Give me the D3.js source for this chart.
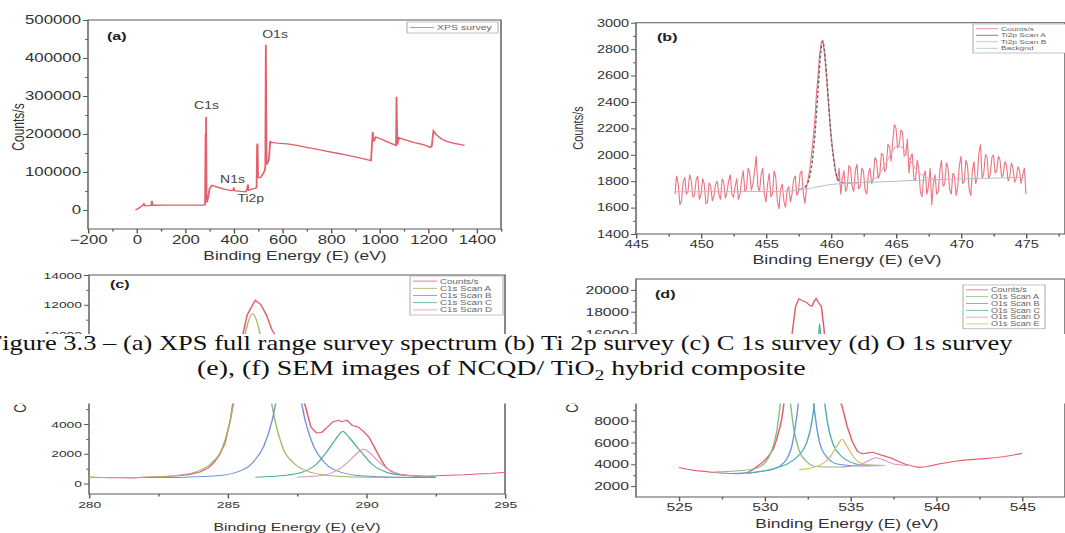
<!DOCTYPE html>
<html>
<head>
<meta charset="utf-8">
<script src="https://cdn.jsdelivr.net/npm/d3@7"></script>
<style>
  html, body { margin: 0; padding: 0; background: #fff; }
  svg { display: block; }
</style>
</head>
<body>
<svg id="fig" width="1065" height="533"></svg>
<script>
/* XPS figure: (a) survey, (b) Ti 2p, (c) C 1s, (d) O 1s, with the
 * thesis caption pasted over the middle of the page. */

// ---- (a) survey: [binding energy eV, counts/s]
const surveyData = [
  [-5, 0], [5, 3000], [15, 8000], [25, 12000], [30, 16000], [35, 11000], [45, 11500],
  [60, 12000], [63, 24000], [66, 12500], [80, 12500], [120, 13000], [160, 13000],
  [200, 13000], [240, 13000], [275, 13000], [282, 14000], [284, 200000], [285, 120000],
  [286, 245000], [288, 30000], [290, 20000], [295, 35000], [300, 55000], [310, 65000],
  [330, 61000], [360, 55000], [390, 51000], [398, 52000], [400, 60000], [402, 51000],
  [430, 49000], [450, 48000], [455, 55000], [458, 67000], [461, 52000], [480, 56000],
  [490, 57000], [494, 60000], [496, 170000], [498, 175000], [500, 85000], [510, 85000],
  [520, 95000], [527, 103000], [530, 115000], [532, 435000], [535, 120000], [540, 125000],
  [545, 135000], [550, 180000], [555, 178000], [580, 176000], [620, 174000], [660, 170000],
  [700, 165000], [740, 160000], [780, 155000], [820, 150000], [860, 145000], [900, 140000],
  [940, 134000], [965, 130000], [972, 205000], [976, 180000], [985, 192000], [1000, 188000],
  [1030, 180000], [1060, 172000], [1068, 170000], [1070, 298000], [1073, 172000],
  [1080, 190000], [1100, 186000], [1140, 178000], [1180, 172000], [1210, 165000],
  [1215, 168000], [1222, 208000], [1235, 197000], [1255, 187000], [1280, 180000],
  [1310, 175000], [1330, 173000], [1350, 170000]
];
const surveyPeaks = [
  { label: 'C1s', e: 288, c: 265000 },
  { label: 'N1s', e: 395, c: 72000 },
  { label: 'Ti2p', e: 470, c: 21000 },
  { label: 'O1s', e: 570, c: 452000 }
];

// ---- (b) Ti 2p: counts on a 0.125 eV grid from 448 eV
const ti2pStart = 448, ti2pStep = 0.125;
const ti2pCounts = [
  1700, 1840, 1780, 1620, 1650, 1790, 1830, 1700, 1720, 1850, 1800, 1680, 1690, 1810, 1840, 1660,
  1700, 1820, 1780, 1630, 1640, 1790, 1760, 1650, 1690, 1780, 1800, 1700, 1660, 1820, 1790, 1670,
  1720, 1800, 1850, 1700, 1680, 1760, 1820, 1660, 1700, 1810, 1880, 1720, 1740, 1900, 1860, 1730,
  1780, 1880, 1990, 1760, 1720, 1850, 1900, 1700, 1640, 1780, 1860, 1680, 1700, 1880, 1830, 1650,
  1590, 1740, 1780, 1650, 1600, 1730, 1760, 1640, 1700, 1810, 1840, 1690, 1720, 1860, 1880, 1700,
  1630, 1760, 1820, 1900, 2000, 2120, 2250, 2450, 2600, 2760, 2850, 2870, 2760, 2620, 2450, 2300,
  2150, 2040, 1950, 1860, 1800, 1900, 1700, 1820, 1880, 1720, 1750, 1920, 1900, 1760, 1720, 1880,
  1930, 1740, 1760, 1900, 1870, 1730, 1700, 1860, 1900, 1780, 1820, 1980, 1960, 1820, 1850, 2010,
  2000, 1870, 1900, 2080, 2060, 1950, 2100, 2230, 2200, 2050, 2080, 2190, 2170, 1990, 2000, 2120,
  1860, 1980, 2010, 1820, 1800, 1960, 1900, 1720, 1680, 1830, 1880, 1700, 1760, 1900, 1620, 1780,
  1850, 1700, 1720, 1880, 1960, 1760, 1780, 1940, 1900, 1740, 1700, 1860, 1840, 1690, 1760, 1920,
  1990, 1780, 1800, 1960, 1920, 1740, 1690, 1880, 1950, 1780, 1830, 2010, 2080, 1820, 1860, 2000,
  1990, 1820, 1850, 1980, 2000, 1860, 1880, 1990, 1960, 1830, 1850, 1950, 1920, 1800, 1830, 1940,
  1900, 1790, 1820, 1910, 1880, 1780, 1850, 1900, 1700
];
const ti2pScanA = [[457.5, 1735], [458, 1755], [458.4, 1850], [458.7, 2080], [459, 2480], [459.2, 2760],
  [459.35, 2860], [459.5, 2790], [459.7, 2560], [460, 2150], [460.3, 1900], [460.6, 1805], [461, 1786], [462, 1788]];
const ti2pScanB = [[462.5, 1790], [463.3, 1815], [463.9, 1880], [464.4, 1970], [464.8, 2040], [465.2, 2070],
  [465.6, 2040], [466.1, 1960], [466.6, 1880], [467.3, 1830], [468.2, 1812]];
const ti2pBackground = [[448, 1720], [456, 1722], [457, 1728], [458, 1740], [459, 1757], [460, 1774],
  [461, 1783], [462, 1787], [463, 1791], [464, 1795], [465, 1800], [466, 1805], [468, 1811], [470, 1817],
  [472, 1823], [475, 1830]];

// ---- (c) C 1s
const c1sCounts = [
  [280, 440], [280.4, 410], [280.8, 390], [281.2, 400], [281.6, 380], [282, 420], [282.4, 440], [282.8, 470],
  [283.2, 520], [283.6, 600], [284, 780], [284.3, 1050], [284.5, 1400], [284.7, 1900], [284.9, 2700],
  [285.1, 4300], [285.3, 6800], [285.5, 9600], [285.7, 11300], [285.9, 12000], [286.0, 12300], [286.2, 12000],
  [286.4, 11300], [286.6, 10300], [286.8, 9700], [287.0, 9300], [287.2, 8700], [287.4, 7600], [287.6, 6300],
  [287.8, 5200], [288.0, 3800], [288.2, 3400], [288.4, 3450], [288.6, 3800], [288.8, 4150], [289.0, 4250],
  [289.1, 4150], [289.3, 4250], [289.5, 3900], [289.7, 3800], [289.9, 3500], [290.1, 3100], [290.3, 2400],
  [290.5, 1700], [290.7, 1100], [290.9, 800], [291.2, 620], [291.6, 540], [292, 500], [292.5, 520],
  [293, 560], [293.5, 590], [294, 640], [294.5, 680], [295, 760]
];
const c1sScanA = [[280, 400], [281.5, 410], [282.5, 460], [283.3, 580], [283.9, 820], [284.4, 1350], [284.8, 2350],
  [285.1, 4300], [285.4, 7400], [285.65, 10200], [285.9, 11400], [286.15, 10200], [286.4, 7400], [286.7, 4300],
  [287, 2350], [287.4, 1350], [287.9, 820], [288.5, 580], [289.3, 460], [290.5, 420], [292, 410]];
const c1sScanB = [[282, 400], [283.5, 430], [284.5, 500], [285.3, 750], [285.9, 1400], [286.3, 2500], [286.6, 4200],
  [286.85, 6500], [287.05, 8000], [287.2, 8600], [287.35, 8000], [287.55, 6500], [287.8, 4200], [288.1, 2500],
  [288.5, 1400], [289.1, 750], [289.9, 500], [291, 430], [292.5, 410]];
const c1sScanC = [[286, 430], [287, 540], [287.7, 780], [288.2, 1300], [288.6, 2200], [288.9, 3000], [289.15, 3500],
  [289.4, 3050], [289.8, 2150], [290.2, 1300], [290.7, 780], [291.3, 560], [292.5, 450]];
const c1sScanD = [[287.5, 430], [288.5, 580], [289, 950], [289.4, 1550], [289.7, 2100], [289.9, 2300], [290.1, 2100],
  [290.4, 1550], [290.8, 950], [291.3, 600], [292.3, 460]];

// ---- (d) O 1s
const o1sCounts = [
  [525, 3700], [525.5, 3550], [526, 3420], [526.5, 3350], [527, 3250], [527.5, 3200], [528, 3150], [528.5, 3130],
  [529, 3250], [529.3, 3500], [529.6, 3850], [529.9, 4200], [530.2, 4700], [530.5, 5400], [530.7, 6300],
  [530.9, 7500], [531.0, 8200], [531.2, 10500], [531.4, 13500], [531.6, 16000], [531.8, 18500], [532.0, 19200],
  [532.2, 19000], [532.4, 18900], [532.6, 18600], [532.75, 18500], [532.9, 19000], [533.0, 19200], [533.15, 18800],
  [533.3, 18500], [533.45, 16500], [533.6, 14000], [533.8, 12000], [534.0, 11000], [534.3, 10000], [534.5, 9400],
  [534.8, 7500], [535.1, 6100], [535.4, 5200], [535.7, 4950], [536.0, 5050], [536.3, 5100], [536.6, 4950],
  [537, 4750], [537.4, 4550], [537.8, 4250], [538.2, 4000], [538.6, 3850], [539, 3720], [539.4, 3780],
  [539.8, 3900], [540.2, 4050], [540.6, 4150], [541, 4250], [541.6, 4380], [542.2, 4450], [542.8, 4520],
  [543.4, 4600], [544, 4720], [544.5, 4850], [545, 5000]
];
const o1sScanA = [[527, 3300], [528.5, 3400], [529.5, 3650], [530, 4100], [530.4, 5200], [530.7, 7000], [530.95, 10000],
  [531.2, 12800], [531.45, 10200], [531.7, 7200], [532, 5300], [532.4, 4300], [533, 3800], [534, 3750], [535, 3800]];
const o1sScanB = [[528, 3150], [529.5, 3300], [530.5, 3550], [531.2, 4300], [531.6, 5800], [531.9, 8800], [532.15, 12500],
  [532.4, 15500], [532.65, 12500], [532.9, 8900], [533.2, 6000], [533.6, 4700], [534.3, 4000], [535.5, 3850], [537, 3880]];
const o1sScanC = [[529, 3150], [530.5, 3600], [531.4, 4100], [531.9, 4700], [532.4, 5800], [532.7, 7500], [532.95, 10500],
  [533.1, 14500], [533.2, 16900], [533.3, 14500], [533.45, 10500], [533.7, 7500], [534, 5800], [534.5, 4700],
  [535, 4200], [535.6, 3950], [537, 3880]];
const o1sScanD = [[534.5, 3750], [535.5, 3950], [536, 4300], [536.5, 4600], [537, 4350], [537.6, 4000], [538.5, 3900]];
const o1sScanE = [[532, 3500], [533, 3800], [533.6, 4300], [534, 5100], [534.3, 5900], [534.5, 6300], [534.7, 5900],
  [535, 5100], [535.4, 4300], [536, 3950], [537, 3880]];

// ---- caption
const captionLines = [
  'Figure 3.3 \u2013 (a) XPS full range survey spectrum (b) Ti 2p survey (c) C 1s survey (d) O 1s survey',
  ['(e), (f) SEM images of NCQD/ TiO', '2', ' hybrid composite']
];

const SX = 1.4;   // the scanned figure is stretched sideways; panels are drawn squeezed then scaled
const FONT = '"Liberation Sans", Arial, sans-serif';
const RED = '#e4606c';

const svg = d3.select('#fig');

function drawPanel(p) {
  const g = svg.append('g').attr('transform', `scale(${SX},1)`).attr('font-family', FONT);
  const x = d3.scaleLinear().domain(p.xDomain).range([p.left / SX, p.right / SX]);
  const y = d3.scaleLinear().domain(p.yDomain).range([p.bottom, p.top]);

  const clipId = 'clip-' + p.id;
  g.append('clipPath').attr('id', clipId).append('rect')
    .attr('x', p.left / SX).attr('y', p.top)
    .attr('width', (p.right - p.left) / SX).attr('height', p.bottom - p.top);

  // minor marks first, then the labelled major ticks
  const axes = [
    [d3.axisBottom(x).tickValues(p.xMinor).tickSize(2.5).tickFormat(''), `translate(0,${p.bottom})`],
    [d3.axisBottom(x).tickValues(p.xTicks).tickSize(4.5).tickPadding(2).tickFormat(d3.format('d')), `translate(0,${p.bottom})`],
    [d3.axisLeft(y).tickValues(p.yMinor).tickSize(2).tickFormat(''), `translate(${p.left / SX},0)`],
    [d3.axisLeft(y).tickValues(p.yTicks).tickSize(3.5).tickPadding(1.5).tickFormat(d3.format('d')), `translate(${p.left / SX},0)`]
  ];
  axes.forEach(([ax, tr]) => {
    const a = g.append('g').attr('transform', tr).call(ax);
    a.attr('font-size', p.tickFont).attr('font-family', FONT);
    a.select('.domain').remove();
    a.selectAll('line').attr('stroke', '#555');
    a.selectAll('text').attr('fill', '#333');
  });

  g.append('rect')
    .attr('x', p.left / SX).attr('y', p.top)
    .attr('width', (p.right - p.left) / SX).attr('height', p.bottom - p.top)
    .attr('fill', 'none').attr('stroke', '#666').attr('stroke-width', 1.1);

  p.series.forEach(s => {
    const line = d3.line()
      .x(d => x(d[0])).y(d => y(d[1]))
      .curve(s.smooth ? d3.curveMonotoneX : d3.curveLinear);
    g.append('path')
      .datum(s.data)
      .attr('clip-path', `url(#${clipId})`)
      .attr('d', line)
      .attr('fill', 'none')
      .attr('stroke', s.color)
      .attr('stroke-width', s.width || 1)
      .attr('stroke-dasharray', s.dash || null);
  });

  // axis titles
  g.append('text')
    .attr('x', p.xTitle[0] / SX).attr('y', p.xTitle[1])
    .attr('text-anchor', 'middle').attr('font-size', p.titleFont).attr('fill', '#333')
    .text('Binding Energy (E) (eV)');
  g.append('text')
    .attr('transform', `translate(${p.yTitle[0] / SX},${p.yTitle[1]}) rotate(-90)`)
    .attr('text-anchor', 'middle').attr('dy', '0.35em').attr('font-size', p.yTitleFont).attr('fill', '#333')
    .text('Counts/s');

  // panel tag
  g.append('text')
    .attr('x', p.tag[0] / SX).attr('y', p.tag[1])
    .attr('font-size', 11.5).attr('font-weight', 'bold').attr('fill', '#222')
    .text(p.tagText);

  drawLegend(g, p.legend, p.series);
  return { g, x, y };
}

function drawLegend(g, L, series) {
  const h = series.length * L.rowH + 3;
  g.append('rect')
    .attr('x', L.x / SX).attr('y', L.y)
    .attr('width', L.w / SX).attr('height', h)
    .attr('fill', '#fff').attr('stroke', '#999').attr('stroke-width', 0.6);
  series.forEach((s, i) => {
    const cy = L.y + 1.5 + L.rowH * (i + 0.5);
    g.append('line')
      .attr('x1', (L.x + 3) / SX).attr('x2', (L.x + 3 + L.lineW) / SX)
      .attr('y1', cy).attr('y2', cy)
      .attr('stroke', s.color).attr('stroke-width', 0.8);
    g.append('text')
      .attr('x', (L.x + 6 + L.lineW) / SX).attr('y', cy).attr('dy', '0.35em')
      .attr('font-size', L.font).attr('fill', '#666')
      .text(s.label);
  });
}

// ---------- (a)
const pa = drawPanel({
  id: 'a', left: 88, right: 501, top: 20, bottom: 229,
  xDomain: [-200, 1500], yDomain: [-50000, 500000],
  xTicks: d3.range(-200, 1401, 200), xMinor: d3.range(-100, 1501, 200),
  yTicks: d3.range(0, 500001, 100000), yMinor: d3.range(50000, 450001, 100000),
  tickFont: 12, titleFont: 12.4, yTitleFont: 12,
  xTitle: [295, 260], yTitle: [18, 127], tag: [107, 40], tagText: '(a)',
  legend: { x: 407, y: 22, w: 91, rowH: 8, lineW: 24, font: 7.5 },
  series: [{ label: 'XPS survey', data: surveyData, color: RED, width: 1.3 }]
});
pa.g.selectAll('.peak').data(surveyPeaks).enter().append('text')
  .attr('class', 'peak')
  .attr('x', d => pa.x(d.e)).attr('y', d => pa.y(d.c))
  .attr('text-anchor', 'middle').attr('font-size', 10).attr('fill', '#444')
  .text(d => d.label);

// ---------- (b)
drawPanel({
  id: 'b', left: 636, right: 1065, top: 22.7, bottom: 234,
  xDomain: [445, 478], yDomain: [1400, 3000],
  xTicks: d3.range(445, 476, 5), xMinor: d3.range(447.5, 478, 5),
  yTicks: d3.range(1400, 3001, 200), yMinor: d3.range(1500, 2901, 200),
  tickFont: 10.3, titleFont: 12.8, yTitleFont: 11,
  xTitle: [847, 264], yTitle: [578, 128], tag: [657, 41], tagText: '(b)',
  legend: { x: 973, y: 24, w: 100, rowH: 6.5, lineW: 22, font: 6 },
  series: [
    { label: 'Counts/s', data: ti2pCounts.map((c, i) => [ti2pStart + i * ti2pStep, c]), color: '#ee7480', width: 0.8 },
    { label: 'Ti2p Scan A', data: ti2pScanA, color: '#666', width: 1, dash: '3,2', smooth: true },
    { label: 'Ti2p Scan B', data: ti2pScanB, color: '#eaa8b0', width: 0.8, smooth: true },
    { label: 'Backgnd', data: ti2pBackground, color: '#a8c4d4', width: 1, smooth: true }
  ]
});

// ---------- (c)
drawPanel({
  id: 'c', left: 89, right: 505, top: 275, bottom: 494,
  xDomain: [280, 295], yDomain: [-700, 14000],
  xTicks: d3.range(280, 296, 5), xMinor: d3.range(282.5, 295, 5),
  yTicks: d3.range(0, 14001, 2000), yMinor: d3.range(1000, 13001, 2000),
  tickFont: 9.9, titleFont: 11.3, yTitleFont: 12,
  xTitle: [297, 531], yTitle: [20, 389], tag: [110, 288], tagText: '(c)',
  legend: { x: 410, y: 276, w: 93, rowH: 7.2, lineW: 24, font: 7 },
  series: [
    { label: 'Counts/s', data: c1sCounts, color: RED, width: 1.1 },
    { label: 'C1s Scan A', data: c1sScanA, color: '#a6b466', width: 1, smooth: true },
    { label: 'C1s Scan B', data: c1sScanB, color: '#7090d8', width: 1, smooth: true },
    { label: 'C1s Scan C', data: c1sScanC, color: '#50ae8e', width: 1, smooth: true },
    { label: 'C1s Scan D', data: c1sScanD, color: '#d696c2', width: 1, smooth: true }
  ]
});

// ---------- (d)
drawPanel({
  id: 'd', left: 636, right: 1065, top: 279, bottom: 497,
  xDomain: [522.5, 547.5], yDomain: [1000, 21000],
  xTicks: d3.range(525, 546, 5), xMinor: d3.range(527.5, 546, 5),
  yTicks: d3.range(2000, 20001, 2000), yMinor: d3.range(3000, 21000, 2000),
  tickFont: 11.2, titleFont: 12.4, yTitleFont: 12,
  xTitle: [847, 528], yTitle: [572, 389], tag: [655, 298], tagText: '(d)',
  legend: { x: 963, y: 285, w: 82, rowH: 6.8, lineW: 22, font: 6.5 },
  series: [
    { label: 'Counts/s', data: o1sCounts, color: RED, width: 1.1 },
    { label: 'O1s Scan A', data: o1sScanA, color: '#80c080', width: 1, smooth: true },
    { label: 'O1s Scan B', data: o1sScanB, color: '#6a98d8', width: 1, smooth: true },
    { label: 'O1s Scan C', data: o1sScanC, color: '#4fb0a8', width: 1, smooth: true },
    { label: 'O1s Scan D', data: o1sScanD, color: '#d890c0', width: 1, smooth: true },
    { label: 'O1s Scan E', data: o1sScanE, color: '#d6c06a', width: 1, smooth: true }
  ]
});

// ---------- caption pasted over the figure
svg.append('rect').attr('x', 0).attr('y', 334).attr('width', 1065).attr('height', 69.5).attr('fill', '#fff');

const capFont = '"Liberation Serif", "Times New Roman", serif';
svg.append('text')
  .attr('x', -12.5).attr('y', 350)
  .attr('font-family', capFont).attr('font-size', 22).attr('fill', '#111')
  .attr('textLength', 1025).attr('lengthAdjust', 'spacingAndGlyphs')
  .text(captionLines[0]);

const line2 = svg.append('text')
  .attr('x', 197).attr('y', 375)
  .attr('font-family', capFont).attr('font-size', 22).attr('fill', '#111');
line2.append('tspan').text(captionLines[1][0]);
line2.append('tspan').attr('font-size', 15).attr('dy', 5).text(captionLines[1][1]);
line2.append('tspan').attr('dy', -5).text(captionLines[1][2]);
// fit line 2 to its width in the scan
const w2 = line2.node().getComputedTextLength();
line2.attr('transform', `translate(197,375) scale(${609 / w2},1) translate(-197,-375)`);
</script>
</body>
</html>
